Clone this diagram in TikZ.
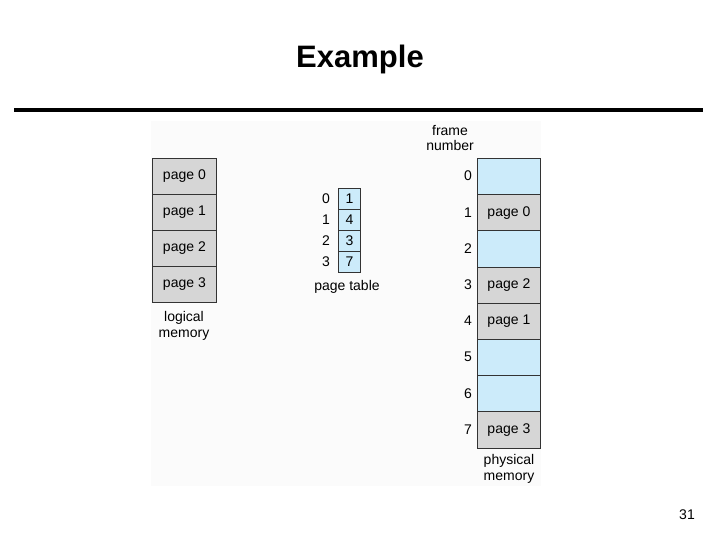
\documentclass[tikz,border=0pt]{standalone}
\usepackage{fontspec}
\setmainfont{Liberation Sans}
\definecolor{memgray}{RGB}{214,214,214}
\definecolor{memblue}{RGB}{204,235,250}
\definecolor{panel}{RGB}{251,251,251}
\begin{document}
\begin{tikzpicture}[x=1pt,y=-1pt,
  txt/.style={inner sep=0pt,font=\fontsize{14}{15.5}\selectfont},
  cell/.style={draw=black!80,line width=0.8pt,minimum width=#1,inner sep=0pt,anchor=north west,font=\fontsize{14}{15.5}\selectfont},
  gcell/.style={cell=#1,fill=memgray},
  bcell/.style={cell=#1,fill=memblue}]
\useasboundingbox (0,0) rectangle (720,540);
\fill[white] (0,0) rectangle (720,540);
\fill[panel] (151,121) rectangle (541,486);
% title
\node[inner sep=0pt,font=\fontsize{31}{35}\bfseries\selectfont] (title) at (360,59) {Example};
\coordinate (rl) at (14,110);
\coordinate (rr) at (703,110);
\draw[line width=4pt] (rl) -- (rr);
% logical memory
\foreach \i/\y in {0/158,1/194,2/230,3/266}{
  \node[gcell=64pt,minimum height=36pt] (lm\i) at (152,\y) {page \i};
}
\node[txt,align=center] (lmlab) at (184,326) {logical\\memory};
% page table
\foreach \i/\v/\y in {0/1/188,1/4/209,2/3/230,3/7/251}{
  \node[bcell=22pt,minimum height=21pt] (pt\i) at (338,\y) {\v};
  \node[txt,anchor=east] (pi\i) at (330,\y+10.5) {\i};
}
\node[txt] (ptlab) at (347,287) {page table};
% physical memory
\node[txt,align=center] (fnlab) at (450,138) {frame\\number};
\foreach \i/\c/\t in {0/bcell/,1/gcell/page 0,2/bcell/,3/gcell/page 2,4/gcell/page 1,5/bcell/,6/bcell/,7/gcell/page 3}{
  \node[\c=63pt,minimum height=36.2pt] (pm\i) at (477,158+\i*36.2) {\t};
  \node[txt,anchor=east] (fi\i) at (472,158+\i*36.2+18) {\i};
}
\node[txt,align=center] (pmlab) at (509,469) {physical\\memory};
% page number
\node[txt] (pgno) at (687,515) {31};
\end{tikzpicture}
\end{document}
